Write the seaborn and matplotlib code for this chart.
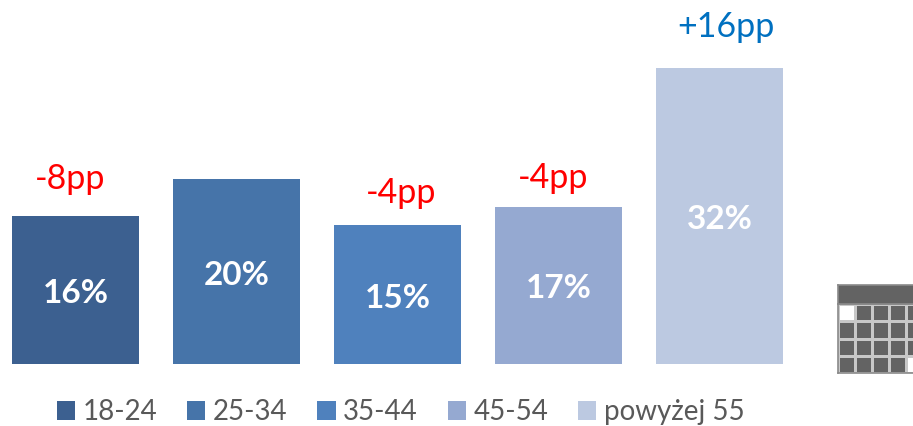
import matplotlib
matplotlib.use("Agg")
import matplotlib.pyplot as plt
import numpy as np
import pandas as pd
import seaborn as sns

ages = ["18-24", "25-34", "35-44", "45-54", "powyżej 55"]
shares = [16, 20, 15, 17, 32]
share_labels = ["16%", "20%", "15%", "17%", "32%"]
changes = ["-8pp", None, "-4pp", "-4pp", "+16pp"]
change_colors = ["#ff0000", None, "#ff0000", "#ff0000", "#0070c0"]
colors = ["#3c6090", "#4674a9", "#4f81bd", "#95a9d1", "#bcc9e1"]

W, H = 913, 426

sns.set_theme(style="white")
plt.rcParams["font.family"] = ["Lato", "DejaVu Sans"]

df = pd.DataFrame({"age": ages, "share": shares})

fig = plt.figure(figsize=(W / 100, H / 100), dpi=100)
ax = fig.add_axes([0, 0, 1, 1])

sns.barplot(data=df, x="age", y="share", hue="age", order=ages, hue_order=ages,
            palette=colors, width=0.789, dodge=False, saturation=1, legend="brief",
            linewidth=0, ax=ax)

# os limites colocam a base em y=364px e 9.24px por ponto percentual
ax.set_xlim(-75.5 / 161, (W - 75.5) / 161)
ax.set_ylim(-(H - 364) / 9.24, 364 / 9.24)
ax.axis("off")

# rótulos dentro das barras
for i, label in enumerate(share_labels):
    ax.annotate(label, (i, shares[i] / 2), xytext=(0, -2.5), textcoords="offset points",
                ha="center", va="center", color="white", fontsize=24, fontweight="bold")

# variações acima das barras (deslocamento em pontos, colocados à mão no original)
offsets = [(-4, 27), None, (2.5, 23), (-4, 21), (4.5, 29.5)]
for i, (txt, col, off) in enumerate(zip(changes, change_colors, offsets)):
    if txt is None:
        continue
    ax.annotate(txt, (i, shares[i]), xytext=off, textcoords="offset points",
                ha="center", va="center", color=col, fontsize=24.5)

ax.legend(loc="center left", bbox_to_anchor=(57 / W, 1 - 412 / H), ncol=5, frameon=False,
          fontsize=20, labelcolor="#595959", handlelength=0.65, handleheight=0.65,
          handletextpad=0.28, columnspacing=1.07, borderpad=0, borderaxespad=0)

# ikona kalendarza, ucięta przez prawą krawędź
cells = np.array([[0, 1, 1, 1, 1],
                  [1, 1, 1, 1, 1],
                  [1, 1, 1, 1, 1],
                  [1, 1, 1, 1, 0]])
cal = fig.add_axes([838 / W, 1 - 373 / H, 85 / W, 69 / H])
sns.heatmap(cells, mask=cells == 0, cmap=["#636363"], cbar=False, linewidths=0.8,
            linecolor="#c8c8c8", xticklabels=False, yticklabels=False, ax=cal)
head = fig.add_axes([838 / W, 1 - 304 / H, 85 / W, 19 / H], facecolor="#636363")
head.set_xticks([])
head.set_yticks([])
for a in (cal, head):
    for s in a.spines.values():
        s.set_visible(True)
        s.set_color("#8a8a8a")
        s.set_linewidth(1.2)

fig.savefig("out.png", dpi=100)
